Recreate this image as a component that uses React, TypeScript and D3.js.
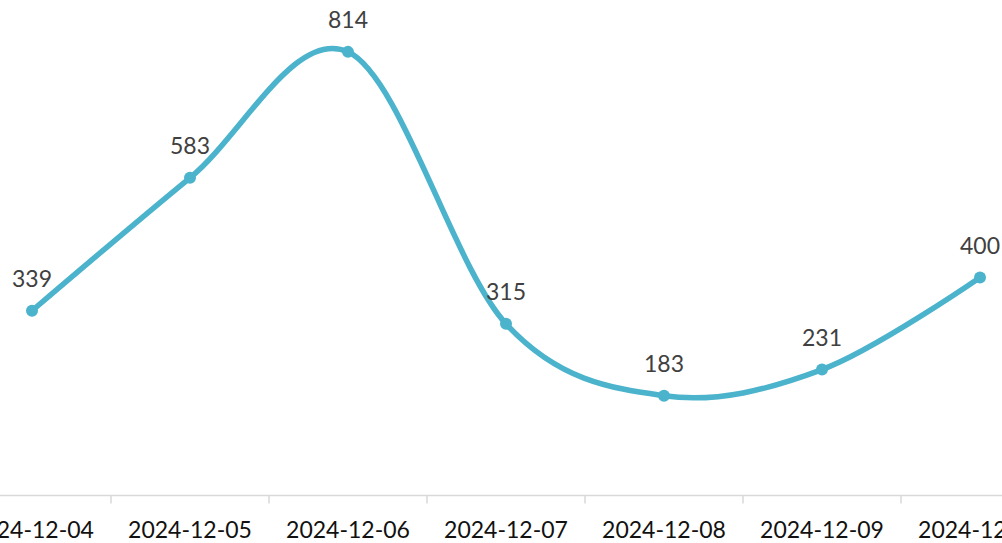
import { useEffect, useRef } from 'react';
import * as d3 from 'd3';

const dates = ['2024-12-04', '2024-12-05', '2024-12-06', '2024-12-07', '2024-12-08', '2024-12-09', '2024-12-10'];
const values = [339, 583, 814, 315, 183, 231, 400];

const WIDTH = 1002;
const HEIGHT = 543;
const LINE_COLOR = '#4bb3cc';
const FONT = 'Lato, "Open Sans", sans-serif';

export default function App() {
  const svgRef = useRef<SVGSVGElement>(null);

  useEffect(() => {
    if (!svgRef.current) return;
    const svg = d3.select(svgRef.current);
    svg.selectAll('*').remove();

    // plot area is wider than the view, the first and last labels get cut
    const xScale = d3.scaleBand<string>()
      .domain(dates)
      .range([-47, 1059])
      .padding(0);

    const yScale = d3.scaleLinear()
      .domain([0, 900])
      .range([495.5, 5]);

    const cx = (d: string) => (xScale(d) as number) + xScale.bandwidth() / 2;

    // axis line + ticks between categories
    const axis = svg.append('g');
    axis.append('line')
      .attr('x1', 0)
      .attr('x2', WIDTH)
      .attr('y1', yScale(0))
      .attr('y2', yScale(0))
      .attr('stroke', '#d9d9d9')
      .attr('stroke-width', 1.5);

    const boundaries = dates.map(d => xScale(d) as number).concat([xScale.range()[1]]);
    axis.selectAll('line.tick')
      .data(boundaries)
      .enter()
      .append('line')
      .attr('class', 'tick')
      .attr('x1', d => d)
      .attr('x2', d => d)
      .attr('y1', yScale(0))
      .attr('y2', yScale(0) + 8)
      .attr('stroke', '#d9d9d9')
      .attr('stroke-width', 1.5);

    axis.selectAll('text')
      .data(dates)
      .enter()
      .append('text')
      .attr('x', d => cx(d))
      .attr('y', 538)
      .attr('text-anchor', 'middle')
      .attr('font-family', FONT)
      .attr('font-size', 23)
      .attr('fill', '#111')
      .text(d => d);

    // smoothed line
    const line = d3.line<number>()
      .x((_, i) => cx(dates[i]))
      .y(d => yScale(d))
      .curve(d3.curveCardinal.tension(0));

    svg.append('path')
      .datum(values)
      .attr('d', line)
      .attr('fill', 'none')
      .attr('stroke', LINE_COLOR)
      .attr('stroke-width', 5.5)
      .attr('stroke-linecap', 'round');

    svg.selectAll('circle.point')
      .data(values)
      .enter()
      .append('circle')
      .attr('class', 'point')
      .attr('cx', (_, i) => cx(dates[i]))
      .attr('cy', d => yScale(d))
      .attr('r', 6)
      .attr('fill', LINE_COLOR);

    // data labels
    svg.selectAll('text.label')
      .data(values)
      .enter()
      .append('text')
      .attr('class', 'label')
      .attr('x', (_, i) => cx(dates[i]))
      .attr('y', d => yScale(d) - 24)
      .attr('text-anchor', 'middle')
      .attr('font-family', FONT)
      .attr('font-size', 23)
      .attr('fill', '#404040')
      .text(d => String(d));
  }, []);

  return (
    <svg
      ref={svgRef}
      width={WIDTH}
      height={HEIGHT}
      style={{ position: 'fixed', left: 0, top: 0, background: '#fff' }}
    />
  );
}
